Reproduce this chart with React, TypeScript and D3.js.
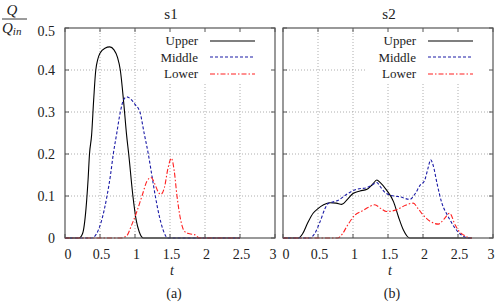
import { useEffect, useRef } from 'react';
import * as d3 from 'd3';

// [t, Q/Qin]
const s1Upper = [
  [0, 0], [0.2, 0], [0.25, 0.01], [0.3, 0.07], [0.33, 0.14], [0.35, 0.2], [0.38, 0.245], [0.41, 0.33],
  [0.44, 0.4], [0.5, 0.44], [0.57, 0.452], [0.64, 0.455], [0.7, 0.448], [0.75, 0.43], [0.79, 0.4],
  [0.84, 0.32], [0.88, 0.245], [0.91, 0.2], [0.97, 0.1], [1.02, 0.04], [1.06, 0.015], [1.12, 0], [2.5, 0],
];
const s1Middle = [
  [0, 0], [0.38, 0], [0.45, 0.01], [0.52, 0.04], [0.6, 0.1], [0.65, 0.15], [0.69, 0.2], [0.74, 0.25],
  [0.79, 0.3], [0.84, 0.33], [0.88, 0.336], [0.93, 0.332], [1.0, 0.318], [1.07, 0.3], [1.13, 0.25],
  [1.19, 0.2], [1.24, 0.15], [1.29, 0.1], [1.35, 0.05], [1.4, 0.02], [1.47, 0], [2.5, 0],
];
const s1Lower = [
  [0, 0], [0.8, 0], [0.88, 0.005], [0.95, 0.03], [1.02, 0.06], [1.1, 0.1], [1.17, 0.135], [1.23, 0.144],
  [1.28, 0.13], [1.33, 0.11], [1.37, 0.104], [1.42, 0.12], [1.47, 0.165], [1.52, 0.19], [1.56, 0.16],
  [1.6, 0.1], [1.65, 0.045], [1.71, 0.015], [1.78, 0.01], [1.85, 0.008], [1.92, 0], [2.5, 0],
];
const s2Upper = [
  [0, 0], [0.22, 0], [0.28, 0.01], [0.35, 0.035], [0.43, 0.059], [0.5, 0.07], [0.58, 0.079], [0.67, 0.084],
  [0.76, 0.083], [0.84, 0.08], [0.92, 0.092], [1.0, 0.106], [1.1, 0.112], [1.2, 0.116], [1.28, 0.128],
  [1.34, 0.138], [1.39, 0.132], [1.48, 0.114], [1.58, 0.086], [1.65, 0.05], [1.72, 0.019], [1.81, 0], [2.7, 0],
];
const s2Middle = [
  [0, 0], [0.38, 0], [0.45, 0.01], [0.53, 0.039], [0.6, 0.07], [0.65, 0.083], [0.72, 0.086], [0.79, 0.09],
  [0.9, 0.103], [1.05, 0.116], [1.2, 0.12], [1.28, 0.127], [1.34, 0.132], [1.39, 0.122], [1.46, 0.108],
  [1.53, 0.102], [1.67, 0.098], [1.81, 0.092], [1.89, 0.106], [1.96, 0.126], [2.02, 0.136], [2.07, 0.165],
  [2.11, 0.186], [2.15, 0.17], [2.2, 0.13], [2.27, 0.083], [2.36, 0.051], [2.46, 0.023], [2.55, 0.007],
  [2.65, 0], [2.7, 0],
];
const s2Lower = [
  [0, 0], [0.78, 0], [0.85, 0.01], [0.91, 0.027], [1.03, 0.055], [1.14, 0.065], [1.22, 0.073], [1.31, 0.079],
  [1.4, 0.07], [1.48, 0.063], [1.62, 0.067], [1.75, 0.078], [1.86, 0.083], [1.93, 0.07], [2.0, 0.055],
  [2.1, 0.04], [2.22, 0.033], [2.3, 0.045], [2.38, 0.059], [2.46, 0.031], [2.52, 0.015], [2.58, 0.007],
  [2.68, 0], [2.7, 0],
];

const xTicks = [0, 0.5, 1, 1.5, 2, 2.5, 3];
const yTicks = [0, 0.1, 0.2, 0.3, 0.4, 0.5];
const legendNames = ['Upper', 'Middle', 'Lower'];

const panels = [
  { title: 's1', caption: '(a)', left: 65, series: [s1Upper, s1Middle, s1Lower], yLabels: true },
  { title: 's2', caption: '(b)', left: 283, series: [s2Upper, s2Middle, s2Lower], yLabels: false },
];

const styles = [
  { color: '#000000', dash: null },
  { color: '#1a1aa6', dash: '3,2' },
  { color: '#ff2020', dash: '5,2,1.5,2' },
];

export default function App() {
  const svgRef = useRef(null);

  useEffect(() => {
    const W = 498;
    const H = 305;
    const top = 28;
    const bottom = 238;
    const pw = 210;

    const root = d3.select(svgRef.current);
    root.selectAll('*').remove();
    const svg = root
      .attr('width', W)
      .attr('height', H)
      .style('font-family', "'Liberation Serif'")
      .style('background', '#fff');

    // Q / Q_in label
    const yl = svg.append('g').attr('font-style', 'italic').attr('fill', '#222');
    yl.append('text').attr('x', 12).attr('y', 15).attr('text-anchor', 'middle').attr('font-size', 15).text('Q');
    yl.append('line').attr('x1', 2).attr('x2', 27).attr('y1', 19).attr('y2', 19).attr('stroke', '#222').attr('stroke-width', 0.9);
    const qin = yl.append('text').attr('x', 2).attr('y', 33).attr('font-size', 15);
    qin.append('tspan').text('Q');
    qin.append('tspan').attr('dy', 2).attr('font-size', 11).text('in');

    panels.forEach((p) => {
      const x = d3.scaleLinear().domain([0, 3]).range([p.left, p.left + pw]);
      const y = d3.scaleLinear().domain([0, 0.5]).range([bottom, top]);
      const g = svg.append('g');

      // grid
      g.append('g')
        .selectAll('line')
        .data(xTicks.slice(1, -1))
        .enter()
        .append('line')
        .attr('x1', (d) => x(d)).attr('x2', (d) => x(d))
        .attr('y1', y(0)).attr('y2', y(0.5))
        .attr('stroke', '#999').attr('stroke-width', 0.8).attr('stroke-dasharray', '1,2');
      g.append('g')
        .selectAll('line')
        .data(yTicks.slice(1, -1))
        .enter()
        .append('line')
        .attr('x1', x(0)).attr('x2', x(3))
        .attr('y1', (d) => y(d)).attr('y2', (d) => y(d))
        .attr('stroke', '#999').attr('stroke-width', 0.8).attr('stroke-dasharray', '1,2');

      // legend background hides the grid
      g.append('rect')
        .attr('x', x(1.19)).attr('y', top + 1)
        .attr('width', x(3) - x(1.19) - 1).attr('height', 55)
        .attr('fill', '#fff');

      // ticks on all four sides
      const tk = 4;
      xTicks.forEach((t) => {
        g.append('line').attr('x1', x(t)).attr('x2', x(t)).attr('y1', bottom).attr('y2', bottom - tk).attr('stroke', '#555');
        g.append('line').attr('x1', x(t)).attr('x2', x(t)).attr('y1', top).attr('y2', top + tk).attr('stroke', '#555');
      });
      yTicks.forEach((v) => {
        g.append('line').attr('x1', x(0)).attr('x2', x(0) + tk).attr('y1', y(v)).attr('y2', y(v)).attr('stroke', '#555');
        g.append('line').attr('x1', x(3)).attr('x2', x(3) - tk).attr('y1', y(v)).attr('y2', y(v)).attr('stroke', '#555');
      });

      // curves
      const line = d3.line()
        .x((d) => x(d[0]))
        .y((d) => y(d[1]))
        .curve(d3.curveMonotoneX);
      p.series.forEach((s, i) => {
        g.append('path')
          .datum(s)
          .attr('d', line)
          .attr('fill', 'none')
          .attr('stroke', styles[i].color)
          .attr('stroke-width', 1.1)
          .attr('stroke-dasharray', styles[i].dash);
      });

      // frame
      g.append('rect')
        .attr('x', x(0)).attr('y', top)
        .attr('width', pw).attr('height', bottom - top)
        .attr('fill', 'none').attr('stroke', '#555').attr('stroke-width', 1.2);

      // legend
      legendNames.forEach((name, i) => {
        const ly = 40.5 + i * 16.5;
        g.append('text')
          .attr('x', p.left + 133).attr('y', ly + 4.5)
          .attr('text-anchor', 'end')
          .attr('font-size', 13).attr('fill', '#222')
          .text(name);
        g.append('line')
          .attr('x1', p.left + 145).attr('x2', p.left + 190)
          .attr('y1', Math.round(ly)).attr('y2', Math.round(ly))
          .attr('stroke', styles[i].color).attr('stroke-width', 1.2)
          .attr('stroke-dasharray', styles[i].dash);
      });

      // x tick labels
      g.append('g')
        .selectAll('text')
        .data(xTicks)
        .enter()
        .append('text')
        .attr('x', (d) => x(d) + (d === 0 ? 3 : d === 3 ? -2 : 1.5))
        .attr('y', 259)
        .attr('text-anchor', 'middle')
        .attr('font-size', 14).attr('fill', '#222')
        .text((d) => d3.format('')(d));

      if (p.yLabels) {
        g.append('g')
          .selectAll('text')
          .data(yTicks)
          .enter()
          .append('text')
          .attr('x', 55)
          .attr('y', (d) => y(d) + (d === 0.5 ? 8 : 4.5))
          .attr('text-anchor', 'end')
          .attr('font-size', 14).attr('fill', '#222')
          .text((d) => d3.format('')(d));
      }

      // titles and captions
      const cx = (x(0) + x(3)) / 2;
      g.append('text').attr('x', cx + 1).attr('y', 19).attr('text-anchor', 'middle')
        .attr('font-size', 15).attr('fill', '#222').text(p.title);
      g.append('text').attr('x', cx + 2).attr('y', 275).attr('text-anchor', 'middle')
        .attr('font-style', 'italic').attr('font-size', 14).attr('fill', '#222').text('t');
      g.append('text').attr('x', cx + 4).attr('y', 298).attr('text-anchor', 'middle')
        .attr('font-size', 14).attr('fill', '#222').text(p.caption);
    });
  }, []);

  return (
    <div style={{ position: 'absolute', left: 0, top: 0 }}>
      <svg ref={svgRef} style={{ display: 'block' }}></svg>
    </div>
  );
}
